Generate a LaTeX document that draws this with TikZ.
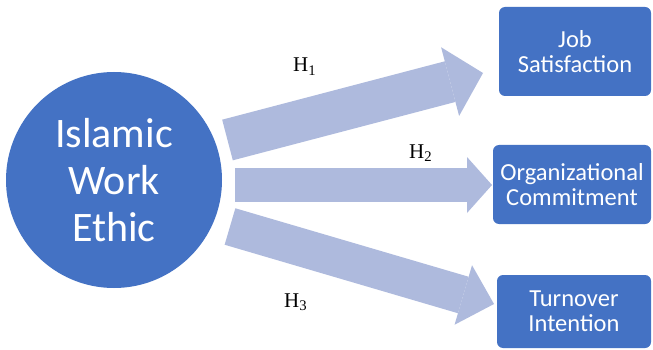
\documentclass[tikz,border=0pt]{standalone}
\usepackage{fontspec}
\setmainfont{Liberation Serif}
\newfontfamily\calibri{Carlito}
\usetikzlibrary{arrows.meta}
\definecolor{darkblue}{RGB}{68,114,196}
\definecolor{lightblue}{RGB}{174,186,221}
\begin{document}
\begin{tikzpicture}[x=1pt,y=-1pt,
  bigcirc/.style={circle, fill=darkblue, minimum size=216pt, inner sep=0pt, text=white, align=center,
    font=\calibri\fontsize{42}{47}\selectfont},
  outbox/.style={rectangle, rounded corners=6pt, fill=darkblue, inner sep=0pt, text=white, align=center,
    font=\calibri\fontsize{24.5}{25}\selectfont},
  fatarrow/.style={draw=lightblue, line cap=butt},
  hlabel/.style={anchor=base west, inner sep=0pt, font=\fontsize{21}{24}\selectfont}]
\useasboundingbox (0,0) rectangle (653,350);
\fill[white] (0,0) rectangle (653,350);
\node[bigcirc] (iwe) at (114,180) {Islamic\\Work\\Ethic};
\node[outbox, minimum width=152pt, minimum height=89pt] (js) at (575,51.5) {Job\\Satisfaction};
\node[outbox, minimum width=158pt, minimum height=79pt] (oc) at (572,184.5) {Organizational\\Commitment};
\node[outbox, minimum width=154pt, minimum height=73pt] (ti) at (574,311.5) {Turnover\\Intention};
\coordinate (t1) at (227.5,140); \coordinate (e1) at (483,73);
\coordinate (t2) at (235,185);   \coordinate (e2) at (492,185);
\coordinate (t3) at (230,226.5); \coordinate (e3) at (494,304);
\draw[fatarrow, line width=42pt, -{Triangle[length=34pt,width=71pt,line width=0pt,fill=lightblue]}] (t1) -- (e1);
\draw[fatarrow, line width=34pt, -{Triangle[length=25pt,width=56pt,line width=0pt,fill=lightblue]}] (t2) -- (e2);
\draw[fatarrow, line width=38pt, -{Triangle[length=32pt,width=62pt,line width=0pt,fill=lightblue]}] (t3) -- (e3);
\node[hlabel] (h1) at (293,72) {H\textsubscript{1}};
\node[hlabel] (h2) at (409,158) {H\textsubscript{2}};
\node[hlabel] (h3) at (284,307) {H\textsubscript{3}};
\end{tikzpicture}
\end{document}
